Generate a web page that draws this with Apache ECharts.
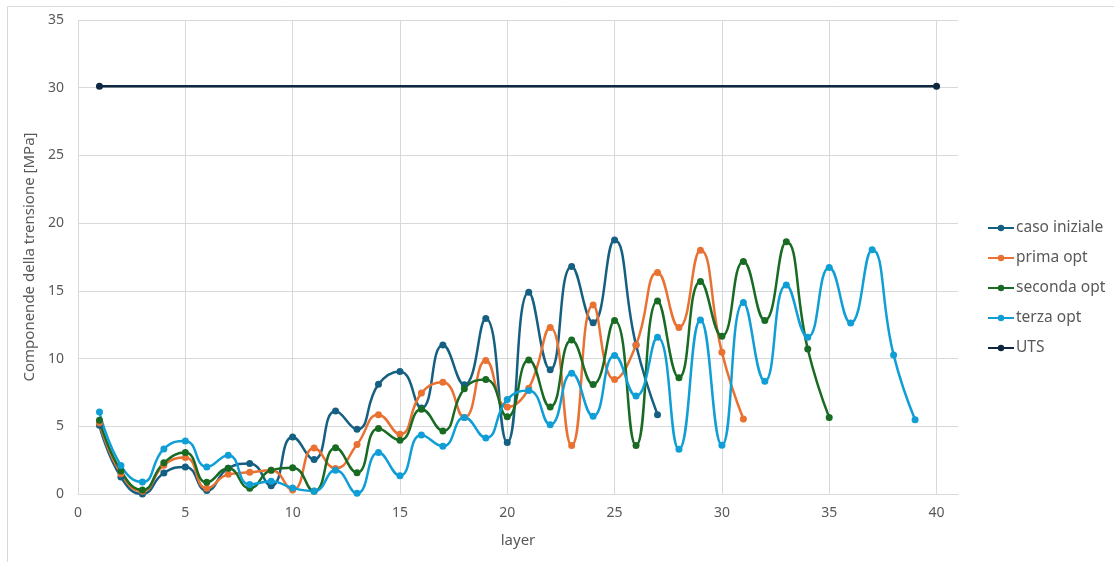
<!DOCTYPE html>
<html>
<head>
<meta charset="utf-8">
<script src="https://cdn.jsdelivr.net/npm/echarts@6/dist/echarts.min.js"></script>
<style>
  html, body { margin: 0; padding: 0; background: #ffffff; }
  #chart { width: 1114px; height: 562px; }
</style>
</head>
<body>
<div id="chart"></div>
<script>
// Stress component per layer for each optimisation step
const casoIniziale = [5.07, 1.25, 0.0, 1.55, 2.0, 0.25, 1.9, 2.26, 0.6, 4.2, 2.55, 6.13, 4.78, 8.1, 9.05, 6.35, 11.0, 8.06, 12.95, 3.8, 14.9, 9.17, 16.8, 12.65, 18.75, 11.0, 5.85];
const primaOpt = [5.27, 1.5, 0.2, 2.13, 2.7, 0.42, 1.45, 1.6, 1.76, 0.3, 3.4, 1.89, 3.65, 5.85, 4.42, 7.45, 8.26, 5.64, 9.85, 6.42, 7.8, 12.3, 3.58, 13.95, 8.46, 11.0, 16.35, 12.3, 18.0, 10.46, 5.54];
const secondaOpt = [5.44, 1.7, 0.3, 2.3, 3.06, 0.86, 1.9, 0.42, 1.76, 1.94, 0.2, 3.41, 1.57, 4.83, 3.97, 6.25, 4.66, 7.77, 8.46, 5.7, 9.9, 6.42, 11.37, 8.09, 12.82, 3.58, 14.26, 8.58, 15.7, 11.64, 17.16, 12.82, 18.63, 10.71, 5.64];
const terzaOpt = [6.05, 2.1, 0.88, 3.33, 3.92, 2.0, 2.87, 0.7, 0.95, 0.44, 0.22, 1.76, 0.05, 3.06, 1.35, 4.36, 3.53, 5.64, 4.14, 6.97, 7.65, 5.12, 8.92, 5.74, 10.22, 7.23, 11.57, 3.3, 12.84, 3.6, 14.14, 8.33, 15.44, 11.57, 16.72, 12.63, 18.04, 10.27, 5.49];
// Ultimate tensile strength, drawn from first to last layer
const utsLayers = [1, 40];
const utsValues = [30.1, 30.1];

const seriesNames = ['caso iniziale', 'prima opt', 'seconda opt', 'terza opt', 'UTS'];
const seriesColors = ['#156082', '#E97132', '#196B24', '#0F9ED5', '#0E2841'];

// layers are numbered from 1
const byLayer = arr => arr.map((v, i) => [i + 1, v]);

const textColor = '#595959';
const fontFamily = '"Noto Sans", Roboto, sans-serif';

const stressSeries = [casoIniziale, primaOpt, secondaOpt, terzaOpt].map((arr, i) => ({
  name: seriesNames[i],
  type: 'line',
  smooth: 0.5,
  data: byLayer(arr),
  symbol: 'circle',
  symbolSize: 7,
  lineStyle: { width: 2.5, color: seriesColors[i] },
  itemStyle: { color: seriesColors[i] }
}));

const utsSeries = {
  name: seriesNames[4],
  type: 'line',
  data: utsLayers.map((l, i) => [l, utsValues[i]]),
  symbol: 'circle',
  symbolSize: 7,
  lineStyle: { width: 2.5, color: seriesColors[4] },
  itemStyle: { color: seriesColors[4] }
};

const chart = echarts.init(document.getElementById('chart'), null, { renderer: 'canvas' });
chart.setOption({
  animation: false,
  backgroundColor: '#ffffff',
  textStyle: { fontFamily: fontFamily, color: textColor },
  graphic: [{
    type: 'rect',
    left: 5, top: 4,
    shape: { width: 1200, height: 700 },
    style: { fill: 'none', stroke: '#d9d9d9', lineWidth: 1 },
    silent: true,
    z: -10
  }],
  grid: { left: 78, top: 20, right: 156, bottom: 68, containLabel: false },
  xAxis: {
    type: 'value',
    min: 0, max: 41, interval: 5,
    name: 'layer',
    nameLocation: 'middle',
    nameGap: 39,
    nameTextStyle: { fontSize: 15, color: textColor, fontFamily: fontFamily },
    axisLine: { show: true, lineStyle: { color: '#d9d9d9', width: 1 } },
    axisTick: { show: false },
    axisLabel: { fontSize: 14, color: textColor, margin: 12, showMaxLabel: false, fontFamily: fontFamily },
    splitLine: { show: true, showMaxLine: false, lineStyle: { color: '#d9d9d9', width: 1 } }
  },
  yAxis: {
    type: 'value',
    min: 0, max: 35, interval: 5,
    name: 'Componende della trensione [MPa]',
    nameLocation: 'middle',
    nameGap: 35,
    nameTextStyle: { fontSize: 15, color: textColor, fontFamily: fontFamily },
    axisLine: { show: false },
    axisTick: { show: false },
    axisLabel: { fontSize: 14, color: textColor, margin: 14, fontFamily: fontFamily },
    splitLine: { show: true, lineStyle: { color: '#d9d9d9', width: 1 } }
  },
  legend: {
    orient: 'vertical',
    left: 982,
    top: 215,
    itemGap: 14,
    itemWidth: 26,
    itemHeight: 8,
    textStyle: { fontSize: 15.5, color: textColor, fontFamily: fontFamily, padding: [0, 0, 0, -3] },
    data: seriesNames
  },
  series: [...stressSeries, utsSeries]
});
</script>
</body>
</html>
